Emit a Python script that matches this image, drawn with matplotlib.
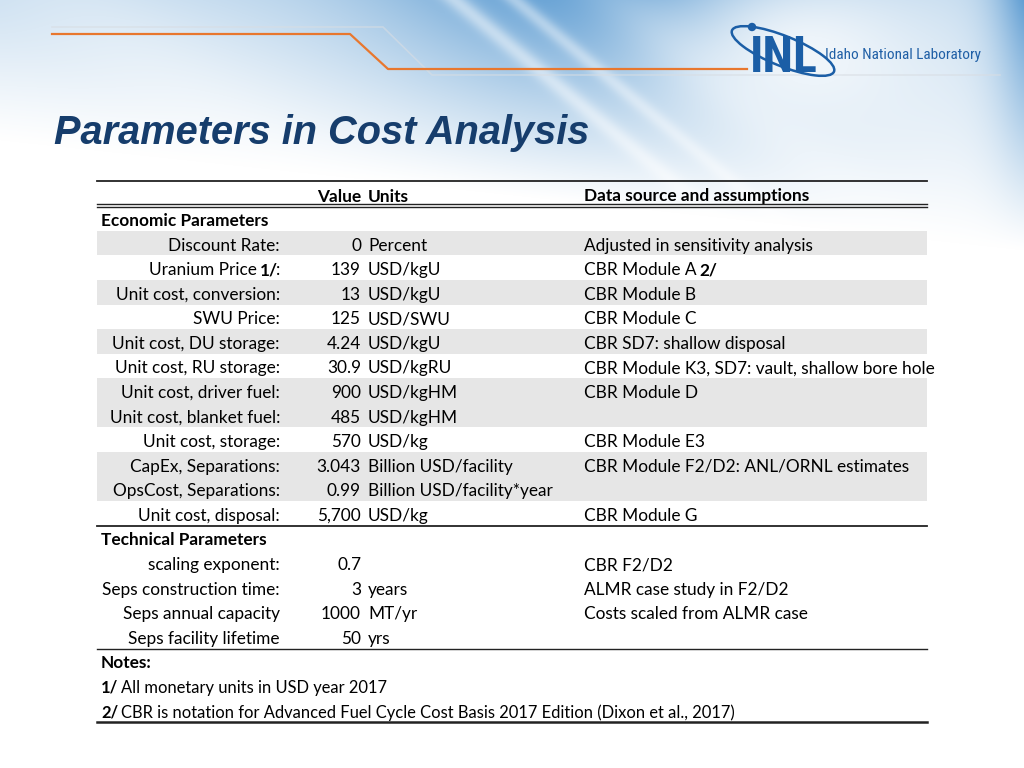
import numpy as np
import matplotlib
matplotlib.use("Agg")
import matplotlib.pyplot as plt
from matplotlib import font_manager
from matplotlib.patches import Rectangle, Ellipse, Circle

W, H = 1024, 768

title = "Parameters in Cost Analysis"
col_headers = ["Value", "Units", "Data source and assumptions"]

# text between | | is bold
econ_title = "Economic Parameters"
econ_labels = ["Discount Rate:", "Uranium Price |1/|:", "Unit cost, conversion:", "SWU Price:",
               "Unit cost, DU storage:", "Unit cost, RU storage:", "Unit cost, driver fuel:",
               "Unit cost, blanket fuel:", "Unit cost, storage:", "CapEx, Separations:",
               "OpsCost, Separations:", "Unit cost, disposal:"]
econ_values = ["0", "139", "13", "125", "4.24", "30.9", "900", "485", "570", "3.043", "0.99", "5,700"]
econ_units = ["Percent", "USD/kgU", "USD/kgU", "USD/SWU", "USD/kgU", "USD/kgRU", "USD/kgHM",
              "USD/kgHM", "USD/kg", "Billion USD/facility", "Billion USD/facility*year", "USD/kg"]
econ_sources = ["Adjusted in sensitivity analysis", "CBR Module A |2/|", "CBR Module B", "CBR Module C",
                "CBR SD7: shallow disposal", "CBR Module K3, SD7: vault, shallow bore hole",
                "CBR Module D", "", "CBR Module E3", "CBR Module F2/D2: ANL/ORNL estimates", "",
                "CBR Module G"]
econ_shaded = [1, 0, 1, 0, 1, 0, 1, 1, 0, 1, 1, 0]

tech_title = "Technical Parameters"
tech_labels = ["scaling exponent:", "Seps construction time:", "Seps annual capacity",
               "Seps facility lifetime"]
tech_values = ["0.7", "3", "1000", "50"]
tech_units = ["", "years", "MT/yr", "yrs"]
tech_sources = ["CBR F2/D2", "ALMR case study in F2/D2", "Costs scaled from ALMR case", ""]

notes_title = "Notes:"
notes = ["|1/| All monetary units in USD year 2017",
         "|2/| CBR is notation for Advanced Fuel Cycle Cost Basis 2017 Edition (Dixon et al., 2017)"]

fonts = font_manager.fontManager.ttflist
names = {f.name for f in fonts}
condensed = None
for nm in ["Liberation Sans Narrow", "Roboto Condensed", "Open Sans Condensed", "Lato Condensed"]:
    if nm in names:
        condensed = dict(family=nm)
        break
if condensed is None:
    for f in fonts:
        if f.name in ("DejaVu Sans", "Roboto", "Open Sans") and f.stretch in ("condensed", "semi-condensed"):
            condensed = dict(family=f.name, fontstretch=f.stretch)
            break

BODY = ["Lato", "DejaVu Sans"]
FS = 12.4

fig = plt.figure(figsize=(W / 100, H / 100), dpi=100)
ax = fig.add_axes([0, 0, 1, 1])
ax.set_xlim(0, W)
ax.set_ylim(H, 0)
ax.axis("off")

# background: blue banner fading to white
yy, xx = np.mgrid[0:H, 0:W].astype(float)
fade_end = 140 + 110 * (xx / W)
a = np.clip(1 - yy / fade_end, 0, 1) ** 1.1
strength = (0.28 + 0.6 * np.exp(-((xx - 600) / 230) ** 2)
            + 0.7 * np.exp(-((xx - 1040) / 45) ** 2))
s = xx - 1.2 * yy
streak = (0.7 * np.exp(-((s - 455) / 14) ** 2) + 0.6 * np.exp(-((s - 515) / 12) ** 2)
          + 0.3 * np.exp(-((s - 620) / 50) ** 2) + 0.3 * np.exp(-((s - 80) / 90) ** 2))
glow = np.exp(-(((xx - 800) / 140) ** 2 + ((yy - 50) / 90) ** 2))
alpha = np.clip(a * strength * (1 - 0.7 * streak) * (1 - 0.8 * glow), 0, 1)
blue = np.array([75, 145, 205]) / 255
bg = (1 - alpha[..., None]) + blue * alpha[..., None]
ax.imshow(bg, extent=(0, W, H, 0), zorder=0, interpolation="bilinear")

# decorative lines
ax.plot([52, 383, 432, 1000], [27, 27, 75, 75], color="#d8dde3", lw=1.2, alpha=0.6, zorder=1)
ax.plot([52, 350, 388, 747], [34, 34, 69, 69], color="#e8772e", lw=1.6, zorder=2)

# logo
logo_blue = "#1b5ea6"
if condensed:
    ax.text(750, 72, "INL", fontsize=36, weight="heavy", color=logo_blue, va="baseline",
            ha="left", zorder=3, **condensed)
    ax.text(825, 55, "Idaho National Laboratory", fontsize=11, color="#1f5fa6", va="center",
            ha="left", zorder=3, **condensed)
else:
    ax.text(750, 71, "INL", fontsize=29, family="Liberation Sans", weight="bold",
            color=logo_blue, va="baseline", ha="left", zorder=3)
    ax.text(826, 55, "Idaho National Laboratory", fontsize=9.6, family=BODY, color="#1f5fa6",
            va="center", ha="left", zorder=3)
ax.add_patch(Ellipse((783, 51), 110, 30, angle=22, fill=False, ec=logo_blue, lw=1.8, zorder=3))
ax.add_patch(Circle((752, 27), 3.5, color=logo_blue, zorder=4))

# title
ax.text(54, 133, title, fontsize=28.6, family="Liberation Sans", weight="bold", style="italic",
        color="#163d6c", va="center", ha="left", zorder=3)

renderer = fig.canvas.get_renderer()


def text_width(s, size, weight="normal"):
    t = ax.text(0, 0, s, fontsize=size, family=BODY, weight=weight)
    w = t.get_window_extent(renderer).width
    t.remove()
    return w


def rich(x, y, text, ha="left", weight="normal", size=FS):
    space = max(text_width("a a", size) - text_width("aa", size), 3.0)
    raw = text.split("|")
    objs, gaps = [], []
    prev_end_space = False
    for i, p in enumerate(raw):
        if not p.strip():
            continue
        w = "bold" if (i % 2 == 1 or weight == "bold") else "normal"
        if objs:
            spaced = p[0] == " " or prev_end_space
            gaps.append(space - 1.5 if spaced else -2)
        t = ax.text(0, y + 2.5, p.strip(), fontsize=size, family=BODY, weight=w,
                    color="black", va="center", ha="left", zorder=5)
        objs.append(t)
        prev_end_space = p[-1] == " "
    if not objs:
        return
    widths = [t.get_window_extent(renderer).width for t in objs]
    total = sum(widths) + sum(gaps)
    cur = x - total if ha == "right" else x
    for k, t in enumerate(objs):
        t.set_x(cur)
        cur += widths[k] + (gaps[k] if k < len(gaps) else 0)


x0, x1 = 97, 927
y0, dy = 194, 24.57
xl, xv, xu, xs = 280, 361, 368, 584

# header
rich(xv, y0, col_headers[0], ha="right", weight="bold")
rich(xu, y0, col_headers[1], weight="bold")
rich(xs, y0, col_headers[2], weight="bold")

row = 1
rich(101, y0 + row * dy, econ_title, weight="bold")
row += 1
for i in range(len(econ_labels)):
    yc = y0 + row * dy
    if econ_shaded[i]:
        ax.add_patch(Rectangle((x0, yc - dy / 2), x1 - x0, dy, color="#e6e6e6", lw=0, zorder=1.5))
    rich(xl, yc, econ_labels[i], ha="right")
    rich(xv, yc, econ_values[i], ha="right")
    rich(xu, yc, econ_units[i])
    rich(xs, yc, econ_sources[i])
    row += 1
y_econ_end = y0 + (row - 0.5) * dy

rich(101, y0 + row * dy, tech_title, weight="bold")
row += 1
for i in range(len(tech_labels)):
    yc = y0 + row * dy
    rich(xl, yc, tech_labels[i], ha="right")
    rich(xv, yc, tech_values[i], ha="right")
    rich(xu, yc, tech_units[i])
    rich(xs, yc, tech_sources[i])
    row += 1
y_tech_end = y0 + (row - 0.5) * dy

rich(101, y0 + row * dy, notes_title, weight="bold")
row += 1
for n in notes:
    rich(101, y0 + row * dy, n, size=11.9)
    row += 1
y_end = y0 + (row - 0.5) * dy

# rules
ax.plot([x0, x1], [181, 181], color="#222222", lw=1.3, zorder=6)
ax.plot([x0, x1], [204, 204], color="#222222", lw=1.0, zorder=6)
ax.plot([x0, x1], [207, 207], color="#222222", lw=1.0, zorder=6)
ax.plot([x0, x1], [y_econ_end, y_econ_end], color="#222222", lw=1.3, zorder=6)
ax.plot([x0, x1], [y_tech_end, y_tech_end], color="#222222", lw=1.0, zorder=6)
ax.plot([x0, x1], [y_end, y_end], color="#222222", lw=1.8, zorder=6)

fig.savefig("out.png", dpi=100)
